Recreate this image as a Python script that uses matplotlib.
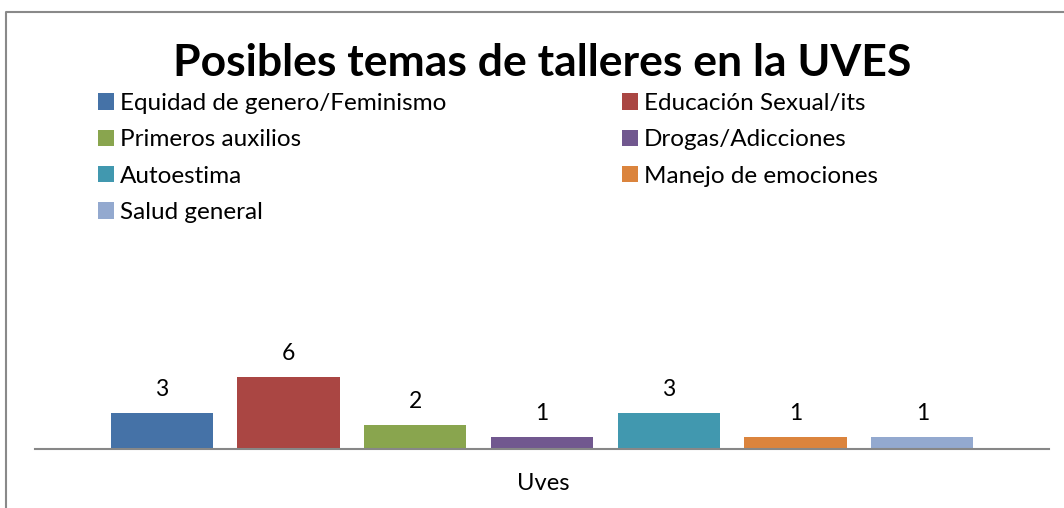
import matplotlib.pyplot as plt
from matplotlib.lines import Line2D

# data
temas = ["Equidad de genero/Feminismo", "Educación Sexual/its", "Primeros auxilios",
         "Drogas/Adicciones", "Autoestima", "Manejo de emociones", "Salud general"]
valores = [3, 6, 2, 1, 3, 1, 1]
colores = ["#4572A7", "#AA4643", "#89A54E", "#71588F", "#4198AF", "#DB843D", "#93A9CF"]
categoria = "Uves"

plt.rcParams['font.family'] = ['Lato', 'DejaVu Sans']

W, H = 1064, 508
fig = plt.figure(figsize=(W / 100, H / 100), dpi=100)

# plot area (pixel positions of the reference)
left, right, bottom, top = 35, 1049, 449, 365
ax = fig.add_axes([left / W, 1 - bottom / H, (right - left) / W, (bottom - top) / H])

bars = []
for i, (t, v, c) in enumerate(zip(temas, valores, colores)):
    b = ax.bar(i, v, width=0.806, color=c, label=t, zorder=2)
    bars.append(b)
    ax.annotate(str(v), (i, v), xytext=(0, 9), textcoords="offset points",
                ha="center", va="bottom", fontsize=16.5, color="black")

ax.set_xlim(-1.0, 7.0)
ax.set_ylim(0, 7)
for s in ["top", "left", "right"]:
    ax.spines[s].set_visible(False)
ax.spines["bottom"].set_color("#878787")
ax.spines["bottom"].set_linewidth(1.5)
ax.set_xticks([])
ax.set_yticks([])
ax.patch.set_alpha(0)

fig.text(543 / W, 1 - 484 / H, categoria, ha="center", va="center", fontsize=17)

# title
fig.text(542 / W, 1 - 63 / H, "Posibles temas de talleres en la UVES",
         ha="center", va="center", fontsize=32, fontweight="bold")

# legend in two columns, row-wise like Excel
leg_kw = dict(loc="upper left", frameon=False, fontsize=17.5, borderpad=0,
              borderaxespad=0, handlelength=0.66, handleheight=0.66,
              handletextpad=0.25, labelspacing=0.63)
col1 = [bars[i] for i in (0, 2, 4, 6)]
col2 = [bars[i] for i in (1, 3, 5)]
l1 = fig.legend(col1, [temas[i] for i in (0, 2, 4, 6)],
                bbox_to_anchor=(98 / W, 1 - 93 / H), **leg_kw)
l2 = fig.legend(col2, [temas[i] for i in (1, 3, 5)],
                bbox_to_anchor=(622 / W, 1 - 93 / H), **leg_kw)

# chart border (grey frame, cut at the right and bottom)
fig.add_artist(Line2D([6 / W, 6 / W, 1.0], [0.0, 1 - 12 / H, 1 - 12 / H],
                      transform=fig.transFigure, color="#898989", linewidth=1.5))

fig.savefig("out.png", dpi=100, facecolor="white")
